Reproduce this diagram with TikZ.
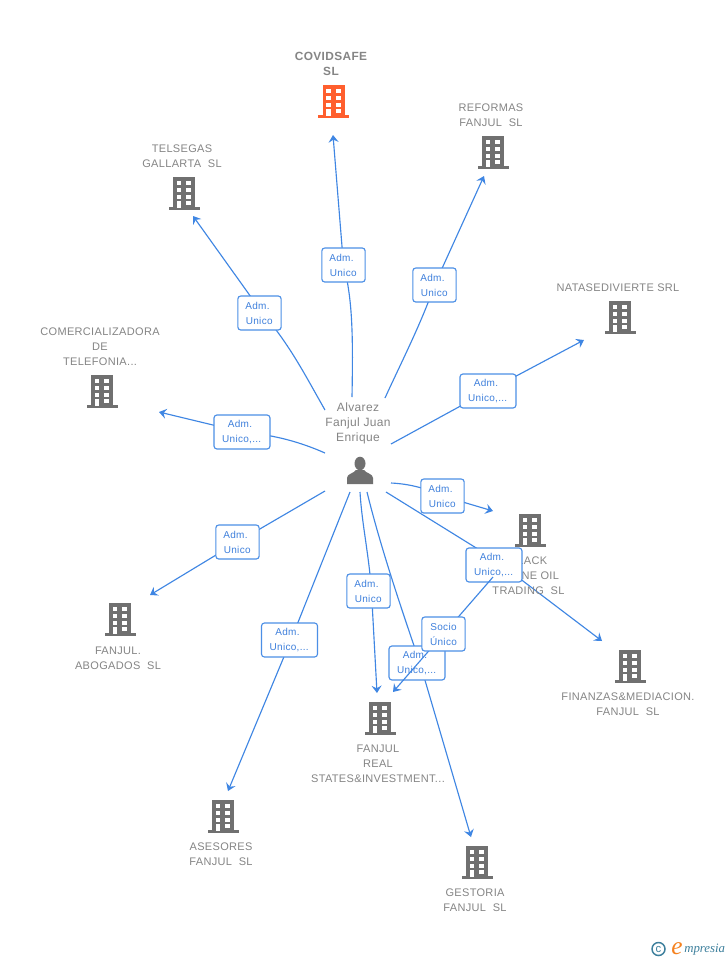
\documentclass[tikz,border=0pt]{standalone}
\usepackage{fontspec}
\setmainfont{Liberation Sans}
\newfontfamily\namefont[LetterSpace=3]{Liberation Sans}
\newfontfamily\relfont[LetterSpace=3]{Liberation Sans}
\newfontfamily\logofont{Liberation Serif}
\usetikzlibrary{arrows.meta}
\definecolor{edgeblue}{HTML}{3F86E3}
\definecolor{boxblue}{HTML}{4C8FE6}
\definecolor{labelblue}{HTML}{3F80DC}
\definecolor{namegray}{HTML}{858585}
\definecolor{bldgray}{HTML}{707070}
\definecolor{bldorange}{HTML}{FF5F2E}
\definecolor{logoteal}{HTML}{3C7F9C}
\definecolor{logoorange}{HTML}{F58220}
\pgfdeclarelayer{paper}
\pgfdeclarelayer{edges}
\pgfdeclarelayer{top}
\pgfsetlayers{paper,edges,main,top}
\newcommand{\AdmText}[1]{\raisebox{-0.5pt}{\vbox{\halign{\hfil##\hfil\cr Adm.\kern3pt\cr\noalign{\vskip0pt}#1\kern0.4pt\cr}}}}
\tikzset{
  x=0.75pt,y=-0.75pt,
  conn/.style={draw=edgeblue,line width=0.85pt,-{Stealth[length=5.5pt,width=7.5pt,inset=2pt]}},
  rel/.style={draw=boxblue,line width=0.85pt,fill=white,rounded corners=2.2pt,inner sep=0pt,
    minimum height=25.5pt,align=center,text=labelblue,font=\relfont\fontsize{7.5}{11.25}\selectfont},
  relnarrow/.style={rel,minimum width=32.5pt},
  relwide/.style={rel,minimum width=42pt},
  coname/.style={align=center,text=namegray,inner sep=0pt,font=\namefont\fontsize{8.25}{11.25}\selectfont},
  hubname/.style={align=center,text=namegray,inner sep=0pt,font=\namefont\fontsize{9}{11.25}\selectfont},
  mainname/.style={align=center,text=namegray,inner sep=0pt,font=\namefont\bfseries\fontsize{8.9}{11.25}\selectfont},
}
% building icon: centre x, top y, colour
\newcommand{\Bldg}[3]{%
  \begin{scope}[shift={(#1,#2)}]
    \fill[#3] (-11,0) rectangle (11,31);
    \fill[#3] (-15.5,30) rectangle (15.5,33);
    \foreach \wy in {4,11,18,24}{
      \fill[white] (-7.5,\wy) rectangle (-2.7,\wy+4);
      \fill[white] (2.3,\wy) rectangle (7,\wy+4);
    }
    \fill[white] (-7.5,24) rectangle (-2.7,31);
  \end{scope}}
\begin{document}
\begin{tikzpicture}
\useasboundingbox (0,0) rectangle (728,960);
\begin{pgfonlayer}{paper}
\fill[white] (0,0) rectangle (728,960);
\end{pgfonlayer}

% buildings
\Bldg{333.5}{85}{bldorange}
\Bldg{493}{136}{bldgray}
\Bldg{184}{177}{bldgray}
\Bldg{620}{301}{bldgray}
\Bldg{102}{375}{bldgray}
\Bldg{530}{514}{bldgray}
\Bldg{120}{603}{bldgray}
\Bldg{630}{650}{bldgray}
\Bldg{380}{702}{bldgray}
\Bldg{223}{800}{bldgray}
\Bldg{477}{846}{bldgray}

% names
\node[mainname] (ncovid) at (331,64) {COVIDSAFE\\SL};
\node[coname] (nreformas) at (491,115) {REFORMAS\\FANJUL\ \ SL};
\node[coname] (ntelsegas) at (182,156) {TELSEGAS\\GALLARTA\ \ SL};
\node[coname] (nnata) at (618,287.5) {NATASEDIVIERTE SRL};
\node[coname] (ncomer) at (100,346.5) {COMERCIALIZADORA\\DE\\TELEFONIA...};
\node[coname] (nblack) at (528.5,575.5) {BLACK\\STONE OIL\\TRADING\ \ SL};
\node[coname] (nabog) at (118,658) {FANJUL.\\ABOGADOS\ \ SL};
\node[coname] (nfin) at (628,704) {FINANZAS\&MEDIACION.\\FANJUL\ \ SL};
\node[coname] (nreal) at (378,763.5) {FANJUL\\REAL\\STATES\&INVESTMENT...};
\node[coname] (nases) at (221,854) {ASESORES\\FANJUL\ \ SL};
\node[coname] (ngest) at (475,900) {GESTORIA\\FANJUL\ \ SL};
\node[hubname] (nhub) at (358,423.5) {Alvarez\\Fanjul Juan\\Enrique};

% person
\fill[bldgray] (360,463.5) ellipse (5.5 and 6.8);
\fill[bldgray] (347,484) -- (347,478) .. controls (347,473.5) and (354,473.5) .. (356,470)
  -- (364,470) .. controls (366,473.5) and (373,473.5) .. (373,478) -- (373,484) -- cycle;

% relation labels
\node[relnarrow] (lcovid) at (343.5,265) {\AdmText{Unico}};
\node[relnarrow] (lreformas) at (434.5,285) {\AdmText{Unico}};
\node[relnarrow] (ltelsegas) at (259.5,313) {\AdmText{Unico}};
\node[relwide] (lcomer) at (242,432) {\AdmText{Unico,...}};
\node[relwide] (lnata) at (488,391) {\AdmText{Unico,...}};
\node[relnarrow] (lblack) at (442.5,496) {\AdmText{Unico}};
\node[relwide] (lgest) at (417,663) {\AdmText{Unico,...}};
\node[relwide] (lfin) at (494,565) {\AdmText{Unico,...}};
\node[relnarrow] (labog) at (237.5,542) {\AdmText{Unico}};
\node[relnarrow] (lreal) at (368.5,591) {\AdmText{Unico}};
\node[relwide] (lases) at (289.5,640) {\AdmText{Unico,...}};
\begin{pgfonlayer}{top}
\node[relnarrow] (lsocio) at (443.5,634) {\raisebox{-0.5pt}{\vbox{\halign{\hfil#\hfil\cr Socio\cr Único\cr}}}};
\end{pgfonlayer}

% free ends
\coordinate (scovid) at (352,397);
\coordinate (ecovid) at (333,135);
\coordinate (sreformas) at (385,398);
\coordinate (ereformas) at (484,176);
\coordinate (stelsegas) at (325,410);
\coordinate (etelsegas) at (193,216);
\coordinate (scomer) at (325,453);
\coordinate (ecomer) at (159,412);
\coordinate (snata) at (391,444);
\coordinate (enata) at (584,340);
\coordinate (sblack) at (391,483);
\coordinate (eblack) at (493,511);
\coordinate (sfin) at (386,492);
\coordinate (efin) at (602,641);
\coordinate (sgest) at (367,492);
\coordinate (egest) at (471,837);
\coordinate (sreal) at (360,492);
\coordinate (ereal) at (377,693);
\coordinate (sases) at (350,492);
\coordinate (eases) at (228,791);
\coordinate (sabog) at (325,491);
\coordinate (eabog) at (150,595);
\coordinate (ssocio) at (493,577);
\coordinate (esocio) at (393,692);

\begin{pgfonlayer}{edges}
\draw[conn] (scovid) .. controls (353,340) and (353,300) .. (lcovid.center) -- (ecovid);
\draw[conn] (sreformas) .. controls (400,365) and (422,322) .. (lreformas.center) -- (ereformas);
\draw[conn] (stelsegas) .. controls (305,375) and (290,345) .. ([xshift=2.2pt]ltelsegas.center) -- (etelsegas);
\draw[conn] (scomer) .. controls (300,442) and (275,435) .. (lcomer.center) -- (ecomer);
\draw[conn] (snata) -- (lnata.center) -- (enata);
\draw[conn] (sblack) .. controls (410,484) and (425,488) .. (lblack.center) -- (eblack);
\draw[conn] (sfin) -- ([yshift=4.5pt]lfin.center) -- (efin);
\draw[conn] (sgest) .. controls (380,545) and (400,605) .. ([xshift=2.2pt]lgest.center) -- (egest);
\draw[conn] (sreal) .. controls (362,525) and (369,555) .. ([xshift=2.2pt]lreal.center) -- (ereal);
\draw[conn] (sases) -- ([xshift=1.1pt]lases.center) -- (eases);
\draw[conn] (sabog) -- (labog.center) -- (eabog);
\end{pgfonlayer}
\draw[conn] (ssocio) -- (lsocio.center) -- (esocio);

% logo
\node[circle,draw=logoteal,line width=1.1pt,minimum size=9.75pt,inner sep=0pt,text=logoteal,font=\fontsize{8.5}{8.5}\selectfont] (logoc) at (658.5,949) {c};
\node[text=logoorange,inner sep=0pt,font=\logofont\itshape\fontsize{19}{19}\selectfont] (logoe) at (677,949) {e};
\node[anchor=west,text=logoteal,inner sep=0pt,font=\logofont\itshape\fontsize{9.6}{9.6}\selectfont] (logot) at (684,950) {mpresia};
\end{tikzpicture}
\end{document}
